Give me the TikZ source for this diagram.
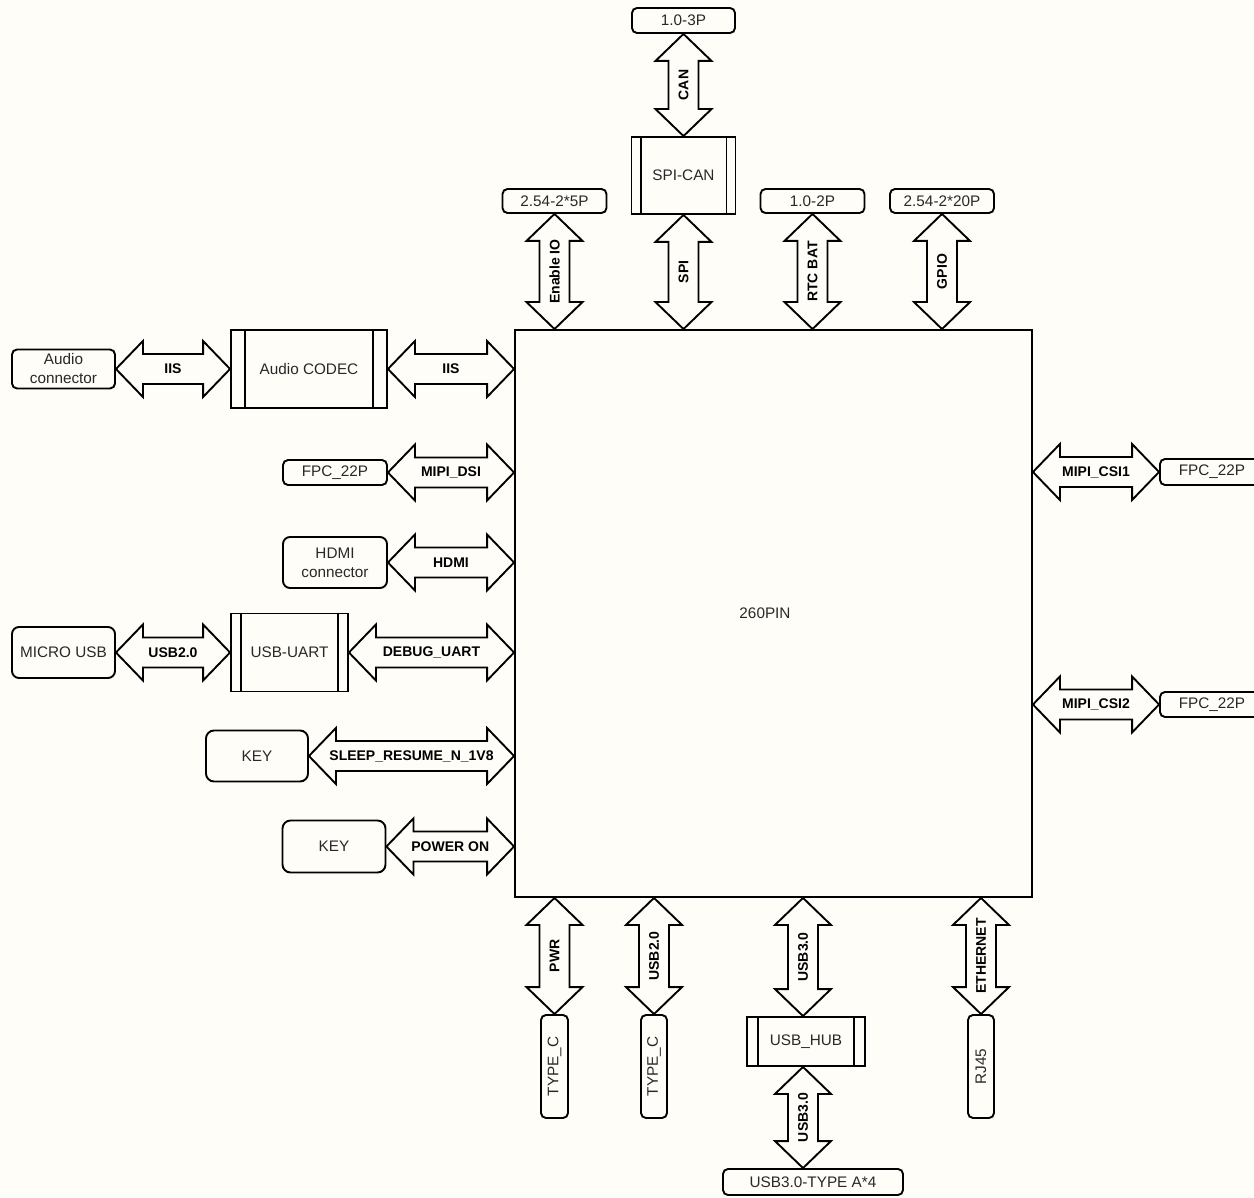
\documentclass[tikz,border=0pt]{standalone}
\usepackage{fontspec}
\setmainfont{Liberation Sans}
\usetikzlibrary{calc}
\definecolor{bg}{RGB}{254,253,248}
\definecolor{txt}{RGB}{40,40,40}
\def\hl{27pt}
\def\hh{28pt}
\def\hs{15pt}
\tikzset{
  conn/.style={draw, line width=1.9pt, rounded corners=5pt, inner sep=0pt, fill=bg,
    font=\fontsize{15.3}{19}\selectfont, text=txt, align=center},
  proc/.style={draw, line width=1.9pt, inner sep=0pt, fill=bg,
    font=\fontsize{15.3}{19}\selectfont, text=txt, align=center},
  dbl/.style={draw, line width=1.9pt, fill=bg, line join=miter},
  lbl/.style={font=\bfseries\fontsize{14}{16}\selectfont, text=black, inner sep=0pt}
}
\newcommand\hdarrow[3]{%
  \draw[dbl] let \p1=(#1), \p2=(#2) in
    (\x1,\y1) -- (\x1+\hl,\y1+\hh) -- (\x1+\hl,\y1+\hs) -- (\x2-\hl,\y1+\hs) -- (\x2-\hl,\y1+\hh)
    -- (\x2,\y1) -- (\x2-\hl,\y1-\hh) -- (\x2-\hl,\y1-\hs) -- (\x1+\hl,\y1-\hs) -- (\x1+\hl,\y1-\hh) -- cycle;
  \node[lbl] at ($(#1)!0.5!(#2)$) {#3};
}
\newcommand\vdarrow[3]{%
  \draw[dbl] let \p1=(#1), \p2=(#2) in
    (\x1,\y1) -- (\x1+\hh,\y1-\hl) -- (\x1+\hs,\y1-\hl) -- (\x1+\hs,\y2+\hl) -- (\x1+\hh,\y2+\hl)
    -- (\x1,\y2) -- (\x1-\hh,\y2+\hl) -- (\x1-\hs,\y2+\hl) -- (\x1-\hs,\y1-\hl) -- (\x1-\hh,\y1-\hl) -- cycle;
  \node[lbl, rotate=90] at ($(#1)!0.5!(#2)$) {#3};
}
\newcommand\proclines[2]{%
  \draw[line width=1.9pt] ($(#1.north west)+(#2pt,0)$) -- ($(#1.south west)+(#2pt,0)$);
  \draw[line width=1.9pt] ($(#1.north east)+(-#2pt,0)$) -- ($(#1.south east)+(-#2pt,0)$);
}
\begin{document}
\begin{tikzpicture}[x=1pt,y=-1pt]
\fill[bg] (0,0) rectangle (1254,1198);
\useasboundingbox (0,0) rectangle (1254,1198);
\clip (0,0) rectangle (1254,1198);

% main block
\node[draw, line width=1.9pt, minimum width=517pt, minimum height=567pt, inner sep=0pt] (main) at (773.5,613.5) {};
\node[font=\fontsize{15.3}{19}\selectfont, text=txt] (mainlbl) at (765,613) {260PIN};

% top
\node[conn, minimum width=103pt, minimum height=25pt] (c3p) at (683.5,20.5) {1.0-3P};
\node[proc, minimum width=104pt, minimum height=77pt] (spican) at (683.5,175.5) {SPI-CAN};
\proclines{spican}{10}
\node[conn, minimum width=104pt, minimum height=24pt] (h5p) at (554.5,201) {2.54-2*5P};
\node[conn, minimum width=104pt, minimum height=24pt] (rtc) at (812.5,201) {1.0-2P};
\node[conn, minimum width=104pt, minimum height=24pt] (h20p) at (942,201) {2.54-2*20P};

\vdarrow{c3p.south}{spican.north}{CAN}
\vdarrow{h5p.south}{h5p.south |- main.north}{Enable IO}
\vdarrow{spican.south}{spican.south |- main.north}{SPI}
\vdarrow{rtc.south}{rtc.south |- main.north}{RTC BAT}
\vdarrow{h20p.south}{h20p.south |- main.north}{GPIO}

% left
\node[conn, minimum width=103pt, minimum height=39pt] (aud) at (63.5,369) {Audio\\connector};
\node[proc, minimum width=156pt, minimum height=78pt] (codec) at (309,369) {Audio CODEC};
\proclines{codec}{15}
\hdarrow{aud.east}{codec.west}{IIS}
\hdarrow{codec.east}{codec.east -| main.west}{IIS}

\node[conn, minimum width=104pt, minimum height=25pt] (fpcl) at (335,472.5) {FPC\_22P};
\hdarrow{fpcl.east}{fpcl.east -| main.west}{MIPI\_DSI}

\node[conn, minimum width=104pt, minimum height=51pt, rounded corners=7pt] (hdmi) at (335,562.5) {HDMI\\connector};
\hdarrow{hdmi.east}{hdmi.east -| main.west}{HDMI}

\node[conn, minimum width=103pt, minimum height=51pt, rounded corners=7pt] (musb) at (63.5,652.5) {MICRO USB};
\node[proc, minimum width=117pt, minimum height=78pt] (uart) at (289.5,652.5) {USB-UART};
\proclines{uart}{11}
\hdarrow{musb.east}{uart.west}{USB2.0}
\hdarrow{uart.east}{uart.east -| main.west}{DEBUG\_UART}

\node[conn, minimum width=102pt, minimum height=51pt, rounded corners=8pt] (key1) at (257,756) {KEY};
\hdarrow{key1.east}{key1.east -| main.west}{SLEEP\_RESUME\_N\_1V8}

\node[conn, minimum width=103pt, minimum height=52pt, rounded corners=8pt] (key2) at (334,846.5) {KEY};
\hdarrow{key2.east}{key2.east -| main.west}{POWER ON}

% right
\node[conn, minimum width=104pt, minimum height=26pt] (fpcr1) at (1212,472) {FPC\_22P};
\hdarrow{main.east |- fpcr1.west}{fpcr1.west}{MIPI\_CSI1}
\node[conn, minimum width=104pt, minimum height=25pt] (fpcr2) at (1212,704.5) {FPC\_22P};
\hdarrow{main.east |- fpcr2.west}{fpcr2.west}{MIPI\_CSI2}

% bottom
\node[conn, minimum width=27pt, minimum height=103pt] (tc1) at (554.5,1066.5) {\rotatebox{90}{TYPE\_C}};
\vdarrow{tc1.north |- main.south}{tc1.north}{PWR}
\node[conn, minimum width=26pt, minimum height=103pt] (tc2) at (654,1066.5) {\rotatebox{90}{TYPE\_C}};
\vdarrow{tc2.north |- main.south}{tc2.north}{USB2.0}

\node[proc, minimum width=118pt, minimum height=49pt] (hub) at (806,1041.5) {USB\_HUB};
\proclines{hub}{12}
\coordinate (hubn) at ($(hub.north)+(-3pt,0)$);
\coordinate (hubs) at ($(hub.south)+(-3pt,0)$);
\vdarrow{hubn |- main.south}{hubn}{USB3.0}
\node[conn, minimum width=180pt, minimum height=26pt] (usba) at (813,1182) {USB3.0-TYPE A*4};
\vdarrow{hubs}{hubs |- usba.north}{USB3.0}

\node[conn, minimum width=26pt, minimum height=103pt] (rj45) at (981,1066.5) {\rotatebox{90}{RJ45}};
\vdarrow{rj45.north |- main.south}{rj45.north}{ETHERNET}
\end{tikzpicture}
\end{document}
